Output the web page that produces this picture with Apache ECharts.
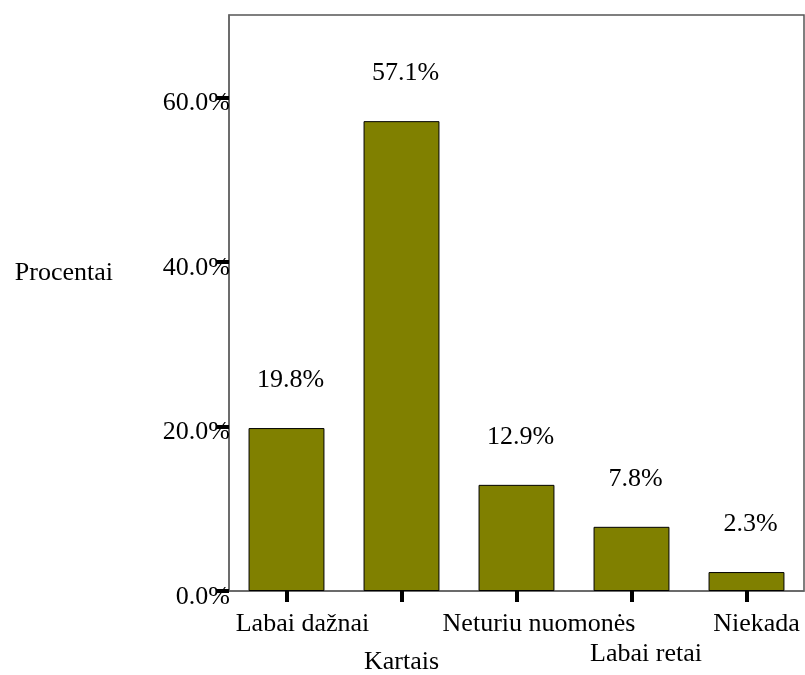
<!DOCTYPE html>
<html>
<head>
<meta charset="utf-8">
<title>Procentai</title>
<script src="https://cdn.jsdelivr.net/npm/echarts@6/dist/echarts.min.js"></script>
<style>
  html, body { margin: 0; padding: 0; background: #ffffff; }
  #chart { width: 805px; height: 675px; }
</style>
</head>
<body>
<div id="chart"></div>
<script>
// Answer categories and their shares (%)
var categories = ['Labai dažnai', 'Kartais', 'Neturiu nuomonės', 'Labai retai', 'Niekada'];
var percents = [19.8, 57.1, 12.9, 7.8, 2.3];
var yTickValues = [0, 20, 40, 60];
var yAxisTitle = 'Procentai';

var FONT = '"Liberation Serif", "Times New Roman", serif';
var FS = 26;

function textStyle(extra) {
  var s = { fontFamily: FONT, fontSize: FS, color: '#000' };
  for (var k in extra) s[k] = extra[k];
  return s;
}

// Per-label text placement on the category axis (staggered rows)
var labelRich = {
  c0: textStyle({ padding: [0, 0, 0, 32] }),
  c1: textStyle({ padding: [38, 0, 0, 0] }),
  c2: textStyle({ padding: [0, 0, 0, 45] }),
  c3: textStyle({ padding: [30, 0, 0, 29] }),
  c4: textStyle({ padding: [0, 0, 0, 20] })
};

var chart = echarts.init(document.getElementById('chart'), null, { renderer: 'canvas' });

chart.setOption({
  animation: false,
  backgroundColor: '#ffffff',
  grid: {
    left: 229, right: 1, top: 15, bottom: 84,
    outerBoundsMode: 'none',
    containLabel: false,
    show: true, borderColor: '#555', borderWidth: 1.5, backgroundColor: 'transparent'
  },
  xAxis: {
    type: 'category',
    data: categories,
    axisLine: { show: true, lineStyle: { color: '#666', width: 1.5 } },
    axisTick: {
      show: true, alignWithLabel: true, interval: 0, length: 11,
      lineStyle: { color: '#000', width: 4 }
    },
    axisLabel: {
      interval: 0,
      margin: 20,
      fontFamily: FONT, fontSize: FS, color: '#000',
      formatter: function (value, idx) { return '{c' + idx + '|' + value + '}'; },
      rich: labelRich
    },
    splitLine: { show: false }
  },
  yAxis: {
    type: 'value',
    min: 0, max: 70, interval: 20,
    name: '{n|' + yAxisTitle + '}',
    nameLocation: 'middle',
    nameRotate: 0,
    nameGap: 116,
    nameTextStyle: textStyle({ rich: { n: textStyle({ padding: [0, 0, 60, 0] }) } }),
    axisLine: { show: true, lineStyle: { color: '#666', width: 1.5 } },
    axisTick: {
      show: true, length: 13, customValues: yTickValues,
      lineStyle: { color: '#000', width: 4 }
    },
    axisLabel: {
      customValues: yTickValues,
      margin: -1,
      fontFamily: FONT, fontSize: FS, color: '#000',
      formatter: function (v) { return '{v|' + v.toFixed(1) + '%}'; },
      rich: { v: textStyle({ padding: [12, 0, 0, 0] }) }
    },
    splitLine: { show: false }
  },
  series: [{
    type: 'bar',
    data: percents,
    barWidth: '66%',
    itemStyle: { color: '#808000', borderColor: '#000', borderWidth: 1 },
    label: {
      show: true,
      position: 'top',
      distance: 35,
      offset: [4, 0],
      fontFamily: FONT, fontSize: FS, color: '#000',
      formatter: function (p) { return p.value.toFixed(1) + '%'; }
    }
  }]
});
</script>
</body>
</html>
